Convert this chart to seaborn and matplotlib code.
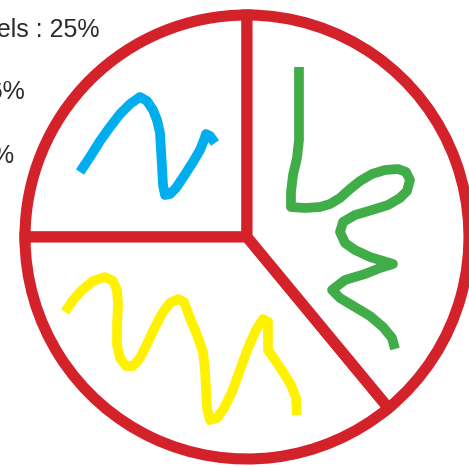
import matplotlib
matplotlib.use("Agg")
import matplotlib.pyplot as plt
import seaborn as sns
import pandas as pd

# ---- data ----
categories = ["Blue pixels", "Yellow pixels", "Green pixels"]
shares = [25, 36, 39]
label_texts = ["Blue pixels : 25%", "Yellow pixels : 36%", "Green pixels : 39%"]
pie_color = "#d4222b"
squiggle_colors = ["#00aeef", "#fff200", "#40ad49"]

# hand-drawn squiggles (pixel coordinates)
blue_x = [80, 90, 100, 110, 120, 130, 140, 147, 153, 157, 160, 161, 162, 163, 165, 170, 176, 184, 193, 200, 204, 206, 210, 215]
blue_y = [172, 157, 141, 127, 114, 104, 97, 101, 110, 120, 133, 150, 167, 185, 195, 194, 188, 176, 162, 150, 140, 134, 136, 143]

yellow_x = [65, 73, 82, 93, 105, 113, 117, 118, 117, 117, 120, 126, 133, 140, 147, 155, 163, 170, 178, 184, 190, 197, 203, 205, 206, 207, 210, 217, 224, 232, 240, 248, 256, 263, 268, 268, 268, 275, 283, 291, 296, 297]
yellow_y = [312, 300, 290, 281, 277, 281, 290, 305, 325, 345, 358, 366, 366, 358, 344, 327, 312, 303, 299, 302, 318, 335, 352, 370, 390, 408, 420, 418, 408, 392, 370, 348, 330, 319, 322, 335, 350, 360, 372, 385, 398, 415]

green_x = [299, 299, 299, 297, 293, 291, 291, 305, 320, 330, 340, 350, 360, 372, 385, 398, 406, 410, 407, 400, 388, 372, 355, 343, 340, 345, 355, 370, 393, 380, 365, 345, 332, 340, 355, 370, 383, 392, 395]
green_y = [67, 100, 140, 158, 175, 192, 207, 208, 207, 204, 198, 189, 181, 174, 170, 169, 172, 180, 191, 198, 205, 210, 215, 222, 232, 243, 250, 257, 264, 268, 274, 280, 290, 298, 307, 316, 327, 338, 349]

squiggles = [(blue_x, blue_y), (yellow_x, yellow_y), (green_x, green_y)]

# ---- style ----
sns.set_theme(style="white")
plt.rcParams["font.family"] = ["Liberation Sans", "DejaVu Sans"]

W, H = 469, 467
fig = plt.figure(figsize=(W / 100, H / 100), dpi=100)
fig.patch.set_facecolor("white")

# pie axes: center (247, 237) px, radius 222 px
cx, cy, r = 247, 237, 222
half = 1.1 * r
ax_pie = fig.add_axes([(cx - half) / W, (H - cy - half) / H, 2 * half / W, 2 * half / H])
wedges, _ = ax_pie.pie(
    shares,
    startangle=90,
    counterclock=True,
    colors=["white"] * len(shares),
    wedgeprops=dict(edgecolor=pie_color, linewidth=8, joinstyle="miter"),
)
ax_pie.set_xlim(-1.1, 1.1)
ax_pie.set_ylim(-1.1, 1.1)
ax_pie.set_axis_off()

# overlay axes in pixel coordinates
ax = fig.add_axes([0, 0, 1, 1])
ax.set_xlim(0, W)
ax.set_ylim(H, 0)
ax.set_axis_off()
ax.patch.set_alpha(0)

for (xs, ys), col, name in zip(squiggles, squiggle_colors, categories):
    df = pd.DataFrame({"x": xs, "y": ys})
    sns.lineplot(data=df, x="x", y="y", sort=False, estimator=None, ax=ax,
                 color=col, linewidth=7, solid_capstyle="butt", solid_joinstyle="round")

ax.set_xlim(0, W)
ax.set_ylim(H, 0)
ax.set_axis_off()

label_x = [99, 25, 14]
label_y = [37, 99, 163]
for t, lx, ly in zip(label_texts, label_x, label_y):
    ax.text(lx, ly, t, ha="right", va="baseline", fontsize=18, color="#2a2a2a")

fig.savefig("out.png", dpi=100, facecolor="white")
